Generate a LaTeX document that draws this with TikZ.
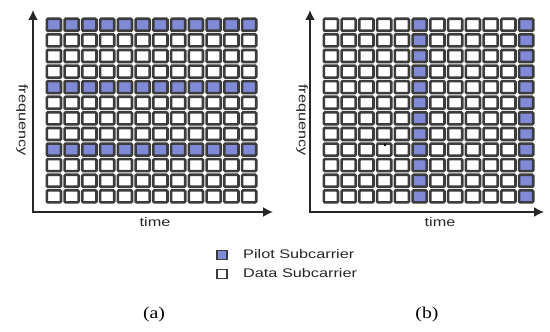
\documentclass[tikz,border=0pt]{standalone}
\usepackage{fontspec}
\setsansfont{Liberation Sans}[FakeStretch=1.3]
\newfontfamily\capfont{Liberation Serif}[FakeStretch=1.2]
\usetikzlibrary{arrows.meta}

\definecolor{pilotblue}{RGB}{128,138,214}
\definecolor{cellgray}{RGB}{60,60,60}

\tikzset{
  cell/.style={draw=cellgray, line width=2.6pt, rounded corners=1pt},
  datacell/.style={cell, fill=white},
  pilotcell/.style={cell, fill=pilotblue},
  axis/.style={line width=1.8pt, draw=black!85, {Latex[length=10pt,width=10pt]}-{Latex[length=10pt,width=10pt]}},
  lbl/.style={font=\sffamily\fontsize{12.5}{14}\selectfont, inner sep=0pt, text=black!85},
  subcap/.style={font=\capfont\fontsize{16.5}{18}\selectfont, inner sep=0pt},
}

\begin{document}
\begin{tikzpicture}[x=1pt, y=1pt]
  \useasboundingbox (0,0) rectangle (550,332);

  % (a) Pilot subcarriers in every fourth row (block type).
  \begin{scope}[shift={(0,0)}]
    \foreach \j in {0,...,11} {
      \foreach \i in {0,...,11} {
        \pgfmathtruncatemacro\ispilot{mod(\j,4)==0}
        \ifnum\ispilot=1 \def\kind{pilotcell}\else\def\kind{datacell}\fi
        \draw[\kind] ({45+\i*17.75+1.8},{315-\j*15.6-1.8})
          rectangle ({45+(\i+1)*17.75-1.8},{315-(\j+1)*15.6+1.8});
      }
    }
    % Time and frequency axes.
    \coordinate (origa) at (33,120);
    \coordinate (freqa) at (33,322);
    \coordinate (timea) at (273,120);
    \draw[axis] (freqa) -- (origa) -- (timea);
    \node[lbl] (timelbla) at (155,110) {time};
    \node[lbl, rotate=-90] (freqlbla) at (22,212) {frequency};
    \node[subcap] (capa) at (154,17) {(a)};
  \end{scope}

  % (b) Pilot subcarriers in two whole columns (comb type).
  \begin{scope}[shift={(277,0)}]
    \foreach \j in {0,...,11} {
      \foreach \i in {0,...,11} {
        \pgfmathtruncatemacro\ispilot{mod(\i,6)==5}
        \ifnum\ispilot=1 \def\kind{pilotcell}\else\def\kind{datacell}\fi
        \draw[\kind] ({45+\i*17.75+1.8},{315-\j*15.6-1.8})
          rectangle ({45+(\i+1)*17.75-1.8},{315-(\j+1)*15.6+1.8});
      }
    }
    \fill[black] (108,187) circle (1.5pt);
    \coordinate (origb) at (33,120);
    \coordinate (freqb) at (33,322);
    \coordinate (timeb) at (267,120);
    \draw[axis] (freqb) -- (origb) -- (timeb);
    \node[lbl] (timelblb) at (163,110) {time};
    \node[lbl, rotate=-90] (freqlblb) at (25,212) {frequency};
    \node[subcap] (capb) at (150,17) {(b)};
  \end{scope}

  % Legend.
  \node[draw=cellgray, line width=1.4pt, fill=pilotblue, minimum width=10pt, minimum height=9pt, inner sep=0pt] (keypilot) at (222,77) {};
  \node[draw=cellgray, line width=1.4pt, fill=white, minimum width=10pt, minimum height=9pt, inner sep=0pt] (keydata) at (222,58) {};
  \node[lbl, anchor=west] (txtpilot) at (243,78) {Pilot Subcarrier};
  \node[lbl, anchor=west] (txtdata) at (243,59) {Data Subcarrier};

\end{tikzpicture}
\end{document}
